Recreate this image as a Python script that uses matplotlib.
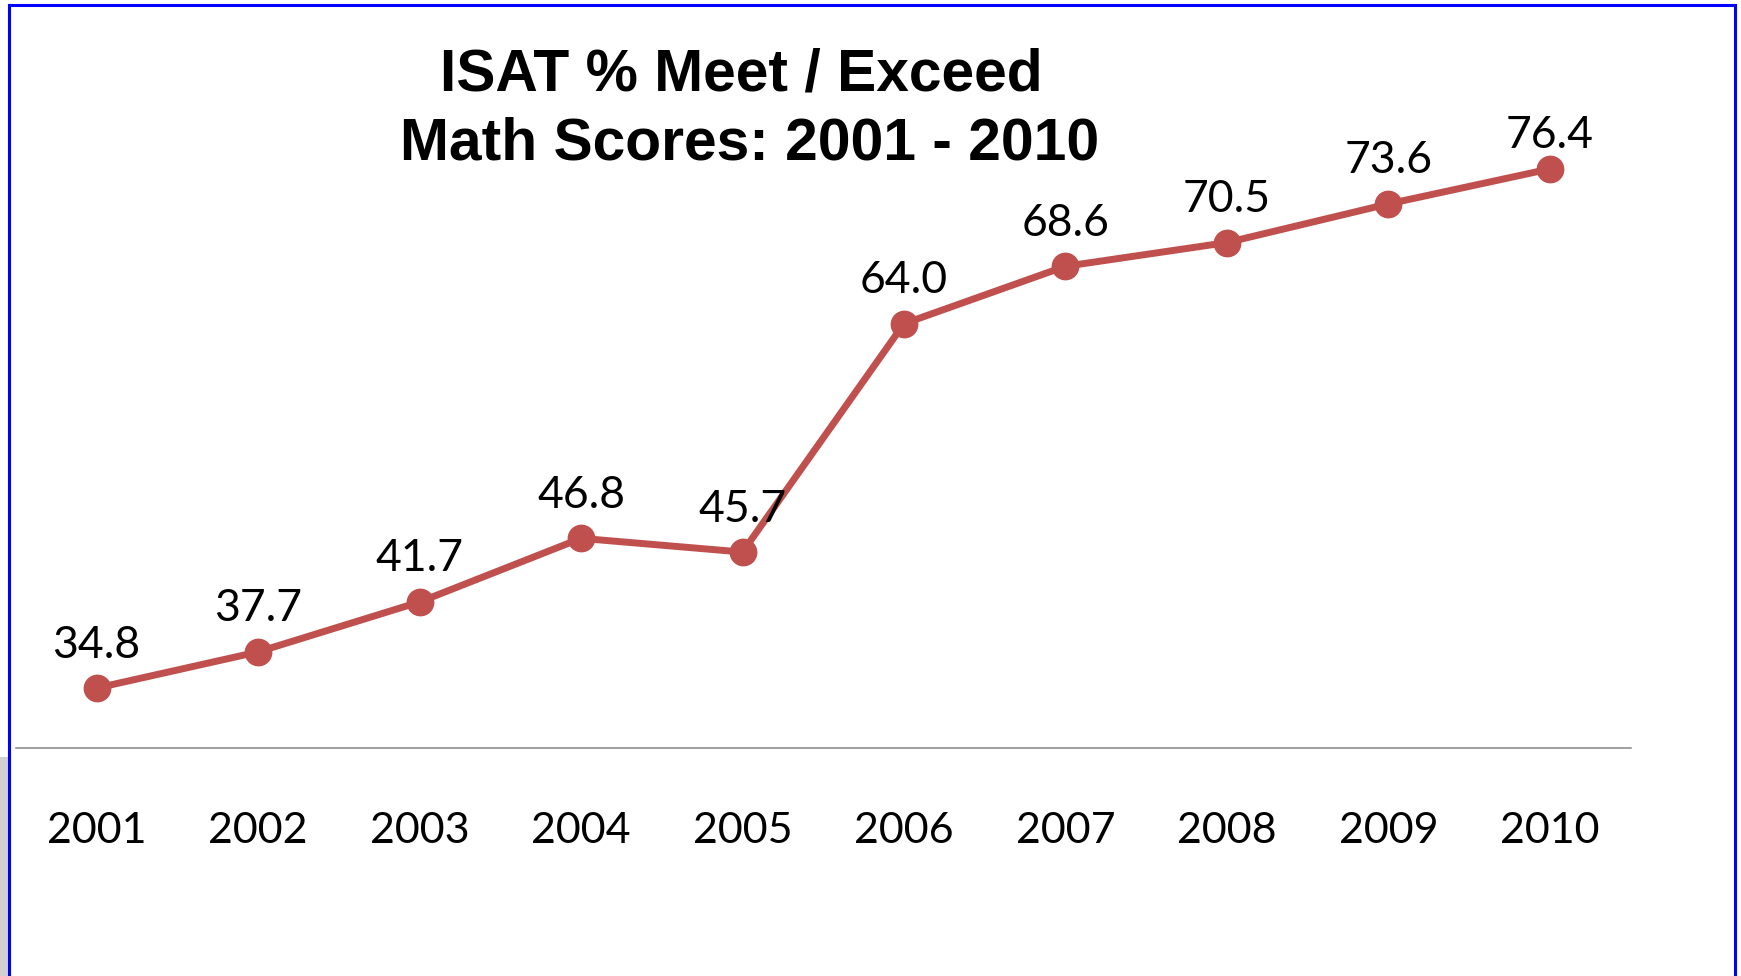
import matplotlib
matplotlib.use("Agg")
import matplotlib.pyplot as plt
from matplotlib.lines import Line2D
from matplotlib.patches import Rectangle

# ---- data ----
years = ["2001", "2002", "2003", "2004", "2005", "2006", "2007", "2008", "2009", "2010"]
scores = [34.8, 37.7, 41.7, 46.8, 45.7, 64.0, 68.6, 70.5, 73.6, 76.4]
title_line1 = "ISAT % Meet / Exceed"
title_line2 = "Math Scores: 2001 - 2010"

W, H, DPI = 1741, 976, 100
fig = plt.figure(figsize=(W / DPI, H / DPI), dpi=DPI)
fig.patch.set_facecolor("white")

def fx(px):
    return px / W

def fy(py):
    return 1 - py / H

# axes: left 15.8px, right 1630.7px, bottom (axis line) 748px, top 124px
ax = fig.add_axes([fx(15.8), fy(748), fx(1630.7) - fx(15.8), fy(124) - fy(748)])
ax.set_facecolor("none")

x = list(range(len(years)))
red = "#C0504D"
ax.plot(x, scores, color=red, lw=5, marker="o", ms=19, mfc=red, mec=red,
        solid_capstyle="round", zorder=3, clip_on=False)

ax.set_xlim(-0.5, len(years) - 0.5)
ax.set_ylim(30, 80)

for s in ["top", "right", "left"]:
    ax.spines[s].set_visible(False)
ax.spines["bottom"].set_color("#868686")
ax.spines["bottom"].set_linewidth(1.1)
ax.set_yticks([])
ax.set_xticks(x)
ax.set_xticklabels(years, fontsize=31, family="Lato", color="black")
ax.tick_params(axis="x", length=0, pad=68.4)
for lab in ax.get_xticklabels():
    lab.set_va("baseline")

# data labels
label_offset_pt = [22.0] * (len(scores) - 1) + [14.8]
for xi, v, off in zip(x, scores, label_offset_pt):
    ax.annotate(f"{v:.1f}", xy=(xi, v), xytext=(0, off), textcoords="offset points",
                ha="center", va="baseline", fontsize=32, family="Lato",
                color="black", zorder=4, annotation_clip=False)

# title
fig.text(fx(741), fy(90), title_line1, ha="center", va="baseline",
         fontsize=42.3, fontweight="bold", family="Liberation Sans", color="black")
fig.text(fx(750), fy(160), title_line2, ha="center", va="baseline",
         fontsize=42.3, fontweight="bold", family="Liberation Sans", color="black")

# decorative frame: gray strip at lower left, blue border (top, left, right)
fig.add_artist(Rectangle((0, 0), fx(7.5), fy(757), transform=fig.transFigure,
                         facecolor="#D0D0D0", edgecolor="none", zorder=0))
blue = "#0000FF"
fig.add_artist(Line2D([fx(8.7), fx(1735)], [fy(4.7), fy(4.7)], transform=fig.transFigure,
                      color=blue, lw=2.2, solid_capstyle="projecting"))
fig.add_artist(Line2D([fx(8.7), fx(8.7)], [fy(4.7), 0], transform=fig.transFigure,
                      color=blue, lw=2.2, solid_capstyle="projecting"))
fig.add_artist(Line2D([fx(1735), fx(1735)], [fy(4.7), 0], transform=fig.transFigure,
                      color=blue, lw=2.2, solid_capstyle="projecting"))

fig.savefig("out.png", dpi=DPI, facecolor="white")
